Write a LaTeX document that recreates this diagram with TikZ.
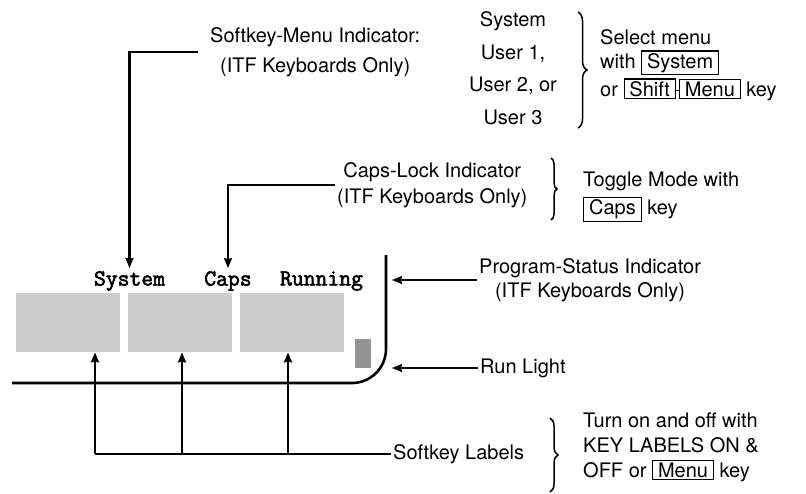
\documentclass[tikz,border=0pt]{standalone}
\usepackage{fontspec}
\setmainfont{TeX Gyre Heros}
\newfontfamily\scrfont[AutoFakeBold=2.5]{Latin Modern Mono}
\usetikzlibrary{arrows.meta,decorations.pathreplacing,positioning}
\newcommand{\keycap}[1]{{\setlength{\fboxsep}{1.5pt}\setlength{\fboxrule}{1.1pt}\fbox{\,#1\,}}}

\begin{document}
\begin{tikzpicture}[x=1pt,y=-1pt,
  lbl/.style={font=\fontsize{20}{26}\selectfont, inner sep=2pt},
  scr/.style={font=\fontsize{23}{26}\selectfont\scrfont\bfseries, inner sep=3pt},
  arr/.style={line width=2.2pt, -{Stealth[length=10pt,width=8pt,inset=1pt]}},
  wire/.style={line width=2.2pt},
  brc/.style={line width=1.5pt, decorate, decoration={brace, amplitude=#1}},
  blk/.style={fill=black!20, draw=none, inner sep=0pt, anchor=north west}]
\useasboundingbox (0,0) rectangle (806,493);
% Screen status line
\node[scr] (sysword) at (129.5,281) {System};
\node[scr] (capsword) at (228,281) {Caps};
\node[scr] (runword) at (321.5,281) {Running};
% Softkey label blocks
\foreach \n/\xa in {1/16,2/128,3/240} {
  \node[blk, minimum width=104pt, minimum height=59pt] (blk\n) at (\xa,293) {};
}
\node[blk, fill=black!42, minimum width=16pt, minimum height=29pt] (runsq) at (355,339) {};
% Screen border
\draw[line width=2.6pt, rounded corners=34pt] (386,255) -- (386,383) -- (12,383);
\coordinate (rim) at (392,255);
% Labels
\node[lbl, anchor=west, inner xsep=12pt, align=center, font=\fontsize{20}{30}\selectfont] (smi) at (198,52)
  {Softkey-Menu Indicator:\\(ITF Keyboards Only)};
\node[lbl, align=center, font=\fontsize{20}{32.5}\selectfont] (menus) at (513,68)
  {System\\User 1,\\User 2, or\\User 3};
\node[lbl, anchor=base west] (selmenu) at (598,44) {Select menu};
\node[lbl, anchor=base west] (selsys) at (598,68) {with \keycap{System}};
\node[lbl, anchor=base west] (selshift) at (598,96)
  {or \keycap{Shift}\kern-1pt\rule[5pt]{5pt}{1.1pt}\kern-1pt\keycap{Menu} key};
\node[lbl, anchor=west, align=center] (cli) at (335,185)
  {Caps-Lock Indicator\\(ITF Keyboards Only)};
\node[lbl, anchor=west, align=left, font=\fontsize{20}{28}\selectfont] (toggle) at (581,197)
  {Toggle Mode with\\\keycap{Caps} key};
\node[lbl, anchor=west, align=center, font=\fontsize{20}{24}\selectfont] (psi) at (477,280)
  {Program-Status Indicator\\(ITF Keyboards Only)};
\node[lbl, anchor=west] (runlight) at (478,368) {Run Light};
\node[lbl, anchor=west] (slab) at (391,454) {Softkey Labels};
\node[lbl, anchor=west, align=left, font=\fontsize{20}{25}\selectfont] (turnon) at (581,447)
  {Turn on and off with\\KEY LABELS ON \&\\OFF or \keycap{Menu} key};
% Braces
\draw[brc=9pt] (578,12) -- (578,128);
\draw[brc=6pt] (551,158) -- (551,220);
\draw[brc=8pt] (550,418) -- (550,492);
% Indicator arrows
\draw[arr] (smi.west) -| (sysword.north);
\draw[arr] (cli.west) -| (capsword.north);
\draw[arr] (psi.west) -- (psi.west -| rim);
\draw[arr] (runlight.west) -- (runlight.west -| rim);
% Softkey label arrows
\coordinate (k1) at (95,454);
\coordinate (k2) at (182,454);
\coordinate (k3) at (288,454);
\draw[wire] (k1) -- (slab.west);
\foreach \n in {1,2,3} {
  \draw[arr] (k\n) -- (k\n |- blk\n.south);
}
\end{tikzpicture}
\end{document}
